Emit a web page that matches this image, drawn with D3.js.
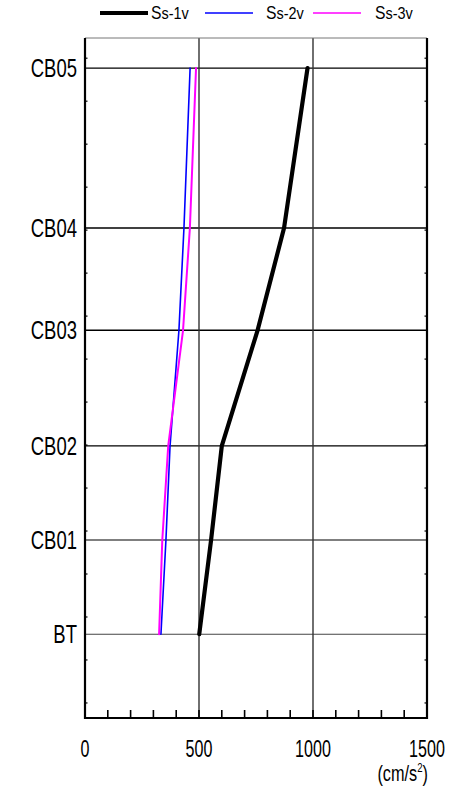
<!DOCTYPE html>
<html>
<head>
<meta charset="utf-8">
<script src="https://cdn.jsdelivr.net/npm/d3@7"></script>
<style>
  html, body { margin: 0; padding: 0; background: #fff; }
  svg text { font-family: "Liberation Sans", Arial, sans-serif; fill: #000; }
</style>
</head>
<body>
<svg id="chart" width="454" height="786"></svg>
<script>
// Floor levels (bottom to top) and their elevations
const floors = ["BT", "CB01", "CB02", "CB03", "CB04", "CB05"];
const floorElev = [16.0, 37.9, 59.8, 86.7, 110.5, 147.7];

// Maximum vertical response acceleration (cm/s²) per floor
const ss1v = [501, 553, 600, 757, 873, 976];
const ss2v = [333, 355, 373, 412, 434, 461];
const ss3v = [325, 339, 365, 430, 460, 487];

const xTickLabels = [0, 500, 1000, 1500];

const series = [
  { name: "s-1v", values: ss1v, color: "#000000", width: 4.2 },
  { name: "s-2v", values: ss2v, color: "#0000ff", width: 1.6 },
  { name: "s-3v", values: ss3v, color: "#ff00ff", width: 2.0 }
];

const svg = d3.select("#chart");
const L = 85, R = 427, T = 38, B = 718;

const x = d3.scaleLinear().domain([0, 1500]).range([L, R]);
const y = d3.scaleLinear().domain([-3.5, 154.7]).range([B, T]);

// condensed text helper: draws text at (px, py) squeezed horizontally
function narrowText(parent, px, py, size, sx, anchor) {
  return parent.append("text")
    .attr("transform", `translate(${px},${py}) scale(${sx},1)`)
    .attr("font-size", size)
    .attr("text-anchor", anchor || "start");
}

// horizontal floor lines
svg.append("g").selectAll("line").data(floorElev).join("line")
  .attr("x1", L).attr("x2", R)
  .attr("y1", d => y(d)).attr("y2", d => y(d))
  .attr("stroke", (d, i) => i === 0 ? "#444" : "#000")
  .attr("stroke-width", (d, i) => (i === 3 || i === 4) ? 1.6 : 1.1);

// vertical grid at 500 and 1000
svg.append("g").selectAll("line").data([500, 1000]).join("line")
  .attr("x1", d => x(d)).attr("x2", d => x(d))
  .attr("y1", T).attr("y2", B)
  .attr("stroke", "#333").attr("stroke-width", 1.4);

// minor ticks along bottom every 100
svg.append("g").selectAll("line").data(d3.range(100, 1500, 100)).join("line")
  .attr("x1", d => x(d)).attr("x2", d => x(d))
  .attr("y1", B).attr("y2", B - 8)
  .attr("stroke", "#000").attr("stroke-width", 1.6);

// small ticks on the left and right edges
const yTicks = d3.range(0, 151, 10);
svg.append("g").selectAll("line").data(yTicks).join("line")
  .attr("x1", L - 1).attr("x2", L + 2.5)
  .attr("y1", d => y(d)).attr("y2", d => y(d))
  .attr("stroke", "#000").attr("stroke-width", 1.2);
svg.append("g").selectAll("line").data(yTicks).join("line")
  .attr("x1", R + 1).attr("x2", R - 2.5)
  .attr("y1", d => y(d)).attr("y2", d => y(d))
  .attr("stroke", "#000").attr("stroke-width", 1.2);

// frame
svg.append("line").attr("x1", L).attr("x2", R).attr("y1", T).attr("y2", T)
  .attr("stroke", "#777").attr("stroke-width", 1);
svg.append("path")
  .attr("d", `M${L},${T}V${B}H${R}V${T}`)
  .attr("fill", "none").attr("stroke", "#000").attr("stroke-width", 2.2);

// response profiles
const line = d3.line()
  .x(d => x(d.v))
  .y(d => y(d.e));

series.forEach(s => {
  svg.append("path")
    .datum(s.values.map((v, i) => ({ v, e: floorElev[i] })))
    .attr("d", line)
    .attr("fill", "none")
    .attr("stroke", s.color)
    .attr("stroke-width", s.width)
    .attr("stroke-linejoin", "round")
    .attr("stroke-linecap", "round");
});

// floor labels
floors.forEach((f, i) => {
  narrowText(svg, 77, y(floorElev[i]) + 9, 25, 0.74, "end").text(f);
});

// x tick labels
xTickLabels.forEach(v => {
  narrowText(svg, x(v), 757, 23, 0.7, "middle").text(v);
});

// unit label
const unit = narrowText(svg, 428, 781, 22, 0.74, "end");
unit.append("tspan").text("(cm/s");
unit.append("tspan").attr("font-size", 13).attr("dy", -9).text("2");
unit.append("tspan").attr("dy", 9).text(")");

// legend
const legendX = [100, 205, 313];
const legendTextX = [151, 266, 375];
series.forEach((s, i) => {
  const lx = legendX[i];
  svg.append("line")
    .attr("x1", lx).attr("x2", lx + 48)
    .attr("y1", 13).attr("y2", 13)
    .attr("stroke", s.color)
    .attr("stroke-width", i === 0 ? 4 : 1.6);
  const t = narrowText(svg, legendTextX[i], 18.5, 18.5, 0.85);
  t.append("tspan").text("S");
  t.append("tspan").attr("font-size", 17).text(s.name);
});
</script>
</body>
</html>
